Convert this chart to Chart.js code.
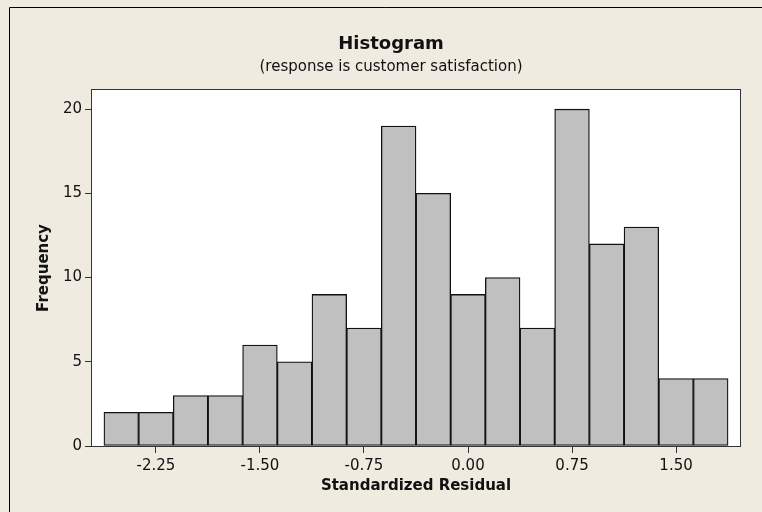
<!DOCTYPE html>
<html>
<head>
<meta charset="utf-8">
<script src="https://cdn.jsdelivr.net/npm/chart.js@4.4.1/dist/chart.umd.min.js"></script>
<style>
  html, body { margin: 0; padding: 0; background: #efebe1; }
  #wrap { position: relative; width: 762px; height: 512px; }
</style>
</head>
<body>
<div id="wrap"><canvas id="hist" width="762" height="512"></canvas></div>
<script>
// bin midpoints (standardized residual) and counts
const binCenters = [-2.5, -2.25, -2.0, -1.75, -1.5, -1.25, -1.0, -0.75, -0.5,
  -0.25, 0.0, 0.25, 0.5, 0.75, 1.0, 1.25, 1.5, 1.75];
const frequencies = [2, 2, 3, 3, 6, 5, 9, 7, 19, 15, 9, 10, 7, 20, 12, 13, 4, 4];
const xTicks = [-2.25, -1.5, -0.75, 0.0, 0.75, 1.5];
const yTicks = [0, 5, 10, 15, 20];

const FONT = "'DejaVu Sans', sans-serif";
const BG = "#efebe1";
const INK = "#111";

// beige background + outer frame, then box around plot
const framePlugin = {
  id: "frame",
  beforeDraw(chart) {
    const ctx = chart.ctx;
    ctx.save();
    ctx.fillStyle = BG;
    ctx.fillRect(0, 0, chart.width, chart.height);
    ctx.strokeStyle = "#000";
    ctx.lineWidth = 1;
    ctx.beginPath();
    ctx.moveTo(9.5, chart.height);
    ctx.lineTo(9.5, 7.5);
    ctx.lineTo(chart.width, 7.5);
    ctx.stroke();
    const a = chart.chartArea;
    ctx.fillStyle = "#fff";
    ctx.fillRect(a.left, a.top, a.right - a.left, a.bottom - a.top);
    ctx.restore();
  },
  afterDraw(chart) {
    const ctx = chart.ctx;
    const a = chart.chartArea;
    ctx.save();
    ctx.strokeStyle = "#333";
    ctx.lineWidth = 1;
    ctx.strokeRect(a.left - 0.5, a.top - 0.5, a.right - a.left + 1, a.bottom - a.top + 1);
    ctx.restore();
  },
};

const ctx = document.getElementById("hist").getContext("2d");

new Chart(ctx, {
  type: "bar",
  data: {
    datasets: [
      {
        label: "Frequency",
        data: binCenters.map((c, i) => ({ x: c, y: frequencies[i] })),
        backgroundColor: "#c0c0c0",
        borderColor: "#111",
        borderWidth: 1.3,
        borderSkipped: false,
        barPercentage: 1,
        categoryPercentage: 1,
      },
    ],
  },
  options: {
    responsive: false,
    animation: false,
    events: [],
    layout: { padding: { left: 42, right: 22, top: 0, bottom: 0 } },
    scales: {
      x: {
        type: "linear",
        min: -2.711,
        max: 1.961,
        offset: false,
        afterFit: (s) => { s.height = 66; },
        afterBuildTicks: (s) => { s.ticks = xTicks.map((v) => ({ value: v })); },
        ticks: {
          color: INK,
          padding: 4,
          font: { family: FONT, size: 15 },
          callback: (v) => v.toFixed(2),
        },
        grid: { offset: false, drawOnChartArea: false, drawTicks: true, tickLength: 7, color: "#333" },
        border: { display: false },
        title: {
          display: true,
          text: "Standardized Residual",
          color: INK,
          font: { family: FONT, size: 15, weight: "bold" },
          padding: { top: 0, bottom: 17 },
        },
      },
      y: {
        min: 0,
        max: 21.14,
        afterFit: (s) => { s.width = 50; },
        afterBuildTicks: (s) => { s.ticks = yTicks.map((v) => ({ value: v })); },
        ticks: {
          color: INK,
          padding: 3,
          font: { family: FONT, size: 15 },
        },
        grid: { drawOnChartArea: false, drawTicks: true, tickLength: 7, color: "#333" },
        border: { display: false },
        title: {
          display: true,
          text: "Frequency",
          color: INK,
          font: { family: FONT, size: 15, weight: "bold" },
          padding: { top: -6.5, bottom: 0 },
        },
      },
    },
    plugins: {
      legend: { display: false },
      tooltip: { enabled: false },
      title: {
        display: true,
        text: "Histogram",
        color: INK,
        font: { family: FONT, size: 18, weight: "bold" },
        padding: { top: 33.7, bottom: 0 },
      },
      subtitle: {
        display: true,
        text: "(response is customer satisfaction)",
        color: INK,
        font: { family: FONT, size: 15 },
        padding: { top: 3.2, bottom: 13.5 },
      },
    },
  },
  plugins: [framePlugin],
});
</script>
</body>
</html>
